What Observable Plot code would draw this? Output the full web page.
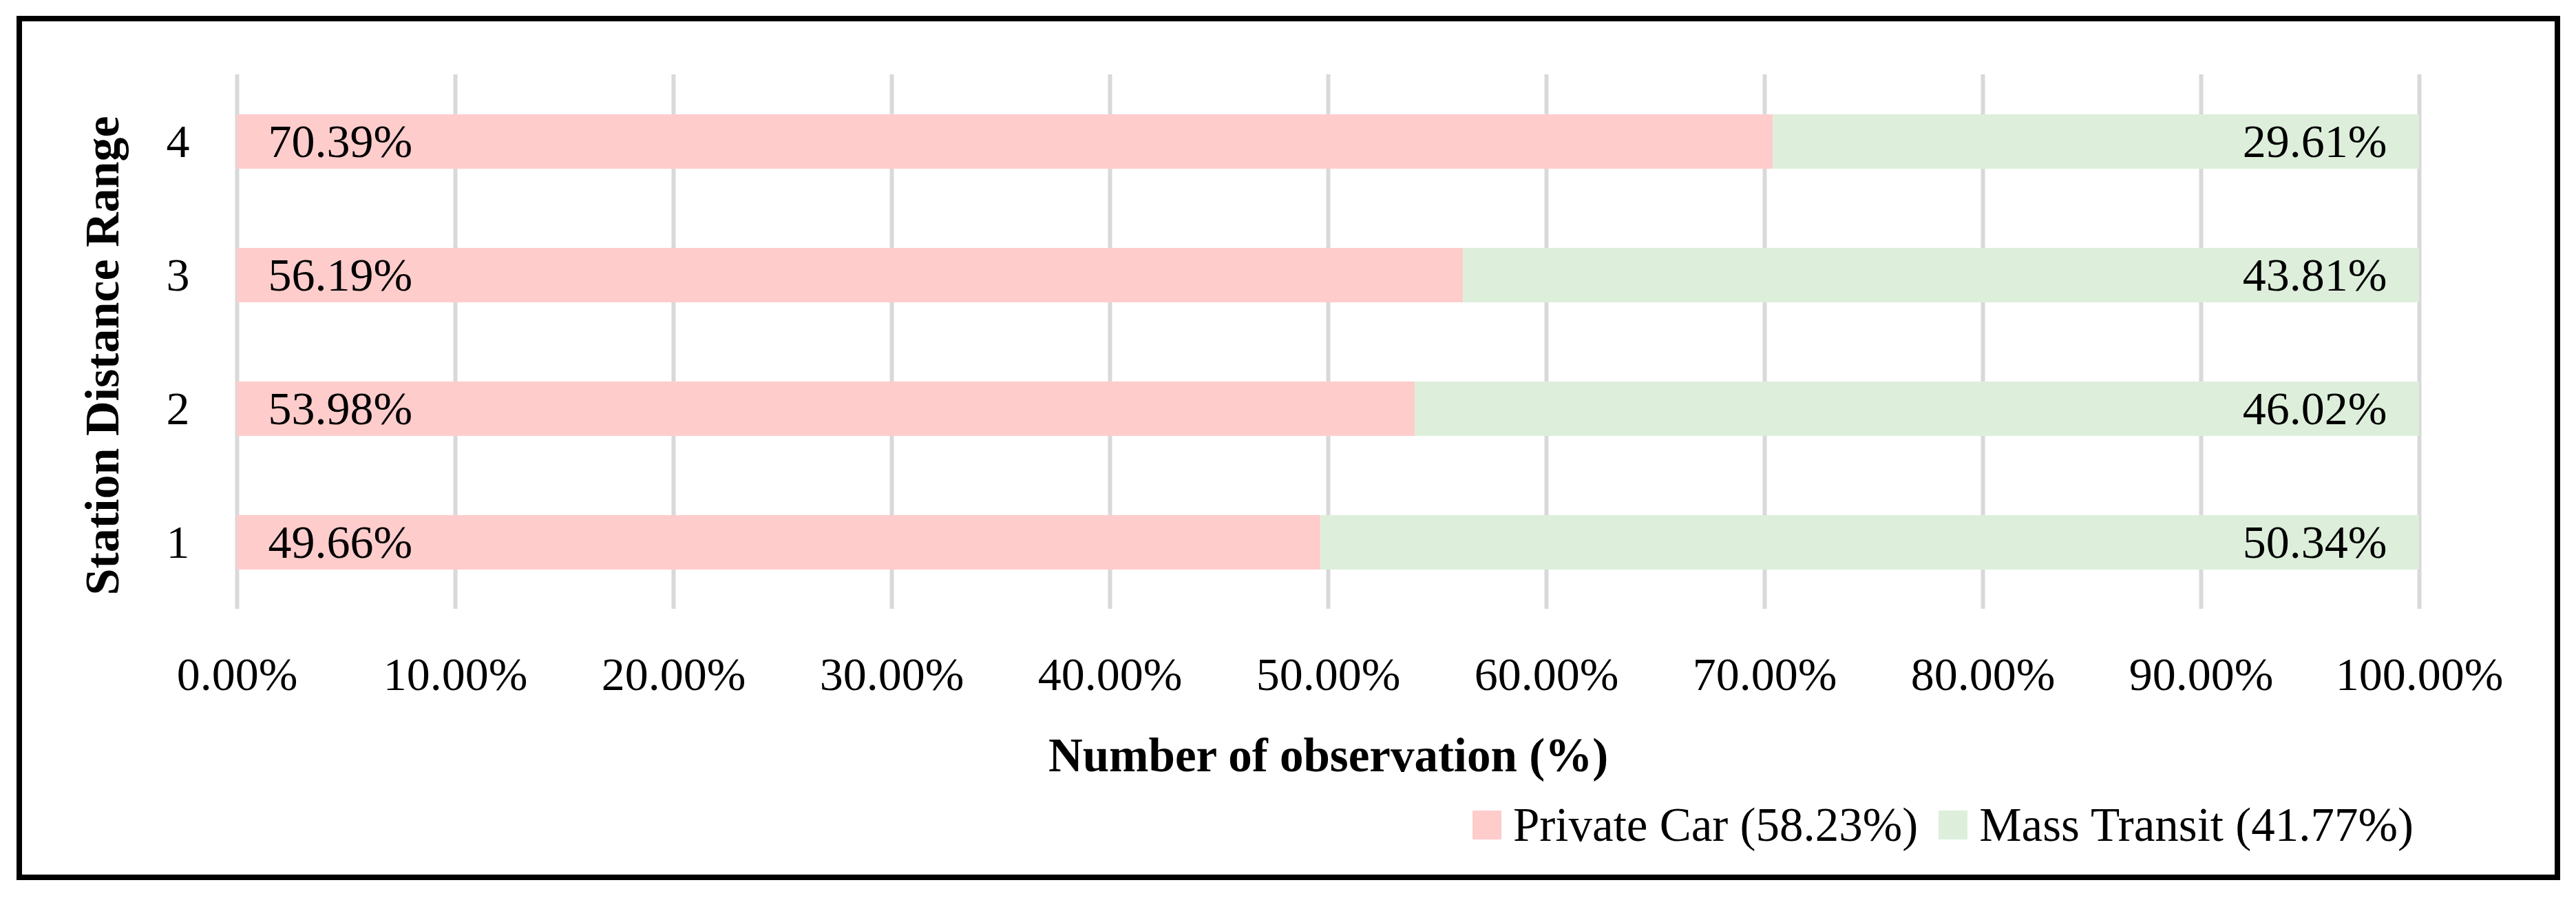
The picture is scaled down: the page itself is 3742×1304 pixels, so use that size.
<!DOCTYPE html>
<html>
<head>
<meta charset="utf-8">
<script src="https://cdn.jsdelivr.net/npm/d3@7"></script>
<script src="https://cdn.jsdelivr.net/npm/@observablehq/plot@0.6"></script>
<style>
  html, body { margin: 0; padding: 0; background: #fff; }
  #wrap { position: relative; width: 3742px; height: 1304px; background: #fff; font-family: "Palatino Linotype", "Book Antiqua", Palatino, "Liberation Serif", serif; }
  #frame { position: absolute; left: 24px; top: 23px; width: 3695px; height: 1255px; border: 8px solid #000; box-sizing: border-box; pointer-events: none; }
  #legend { position: absolute; left: 2139px; top: 1150px; height: 96px; display: flex; align-items: center; font-size: 69px; color: #000; white-space: nowrap; }
  #legend .sw { width: 42px; height: 42px; display: inline-block; margin-right: 17px; }
  #legend .item { display: flex; align-items: center; margin-right: 30px; }
</style>
</head>
<body>
<div id="wrap">
  <div id="chart"></div>
  <div id="legend"></div>
  <div id="frame"></div>
</div>
<script>
// ---- data ----
const ranges = ["1", "2", "3", "4"];
const privateCar = [49.66, 53.98, 56.19, 70.39];
const massTransit = [50.34, 46.02, 43.81, 29.61];
const seriesNames = ["Private Car", "Mass Transit"];
const overallShares = [58.23, 41.77];
const seriesColors = ["#ffcccc", "#ddefdb"];
const xTicks = [0, 10, 20, 30, 40, 50, 60, 70, 80, 90, 100];
const xTitle = "Number of observation (%)";
const yTitle = "Station Distance Range";

const rows = [];
ranges.forEach((r, i) => {
  rows.push({range: r, mode: seriesNames[0], value: privateCar[i]});
  rows.push({range: r, mode: seriesNames[1], value: massTransit[i]});
});
const pct = d => d.toFixed(2) + "%";
const fontFam = "'Palatino Linotype', 'Book Antiqua', Palatino, 'Liberation Serif', serif";

const chart = Plot.plot({
  width: 3742,
  height: 1150,
  marginLeft: 344,
  marginRight: 228,
  marginTop: 108,
  marginBottom: 266,
  style: {fontFamily: fontFam, fontSize: "68px", color: "#000", background: "transparent"},
  x: {domain: [0, 100]},
  y: {domain: ranges.slice().reverse(), paddingInner: 0.594, paddingOuter: 0.297},
  color: {domain: seriesNames, range: seriesColors},
  marks: [
    Plot.gridX(xTicks, {stroke: "#d9d9d9", strokeWidth: 6, strokeOpacity: 1}),
    Plot.barX(rows, {x: "value", y: "range", fill: "mode"}),
    Plot.text(ranges, {x: 0, y: d => d, text: (d, i) => pct(privateCar[i]), textAnchor: "start", dx: 45, fontSize: 68, fill: "#000"}),
    Plot.text(ranges, {x: 100, y: d => d, text: (d, i) => pct(massTransit[i]), textAnchor: "end", dx: -47, fontSize: 68, fill: "#000"}),
    Plot.axisY({tickSize: 0, tickPadding: 69, fontSize: 68, label: null}),
    Plot.axisX(xTicks, {tickSize: 0, tickPadding: 69, fontSize: 68, tickFormat: pct, label: null}),
    Plot.text([xTitle], {frameAnchor: "bottom", lineAnchor: "bottom", dy: 235, text: d => d, fontSize: 69, fontWeight: "bold", fill: "#000"}),
    Plot.text([yTitle], {frameAnchor: "left", textAnchor: "middle", rotate: -90, dx: -195, dy: 20, text: d => d, fontSize: 70, fontWeight: "bold", fill: "#000"})
  ]
});
document.getElementById("chart").appendChild(chart);

const legend = document.getElementById("legend");
seriesNames.forEach((name, i) => {
  const item = document.createElement("div");
  item.className = "item";
  const sw = document.createElement("span");
  sw.className = "sw";
  sw.style.background = seriesColors[i];
  const lab = document.createElement("span");
  lab.textContent = `${name} (${overallShares[i].toFixed(2)}%)`;
  item.appendChild(sw);
  item.appendChild(lab);
  legend.appendChild(item);
});
</script>
</body>
</html>
